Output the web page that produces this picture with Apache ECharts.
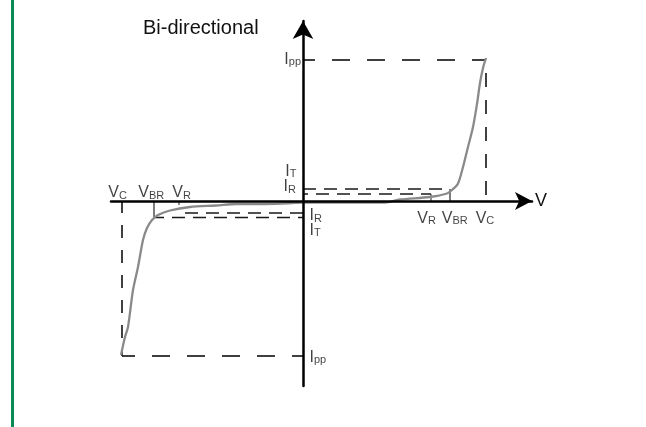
<!DOCTYPE html>
<html><head><meta charset="utf-8">
<script src="https://cdn.jsdelivr.net/npm/echarts@6/dist/echarts.min.js"></script>
<style>html,body{margin:0;padding:0;background:#fff}#c{width:646px;height:427px}</style>
</head><body><div id="c"></div>
<script>
// ---- data (arbitrary schematic units) ----
const vNames = ['VR', 'VBR', 'VC'];
const vPos = [128, 147, 183];
const vNeg = [-124, -149, -181];
const iNames = ['IR', 'IT', 'IPP'];
const iPos = [7, 12, 141];
const iNeg = [-12, -16.5, -155];
const curvePosV = [0, 82, 97, 127, 144, 149, 155, 160, 165, 170, 174, 177, 180, 183];
const curvePosI = [-1.5, -1.5, 1.5, 4, 7.5, 11, 17.5, 34, 54, 74, 97, 118, 133, 143];
const curveNegV = [0, -46, -66, -87, -113, -133, -145, -151, -156, -160, -165, -170, -175, -178, -182];
const curveNegI = [-1.5, -3, -3, -4.5, -6, -9.5, -14, -19, -27, -39, -66, -89, -126, -136, -154];
const vLabelText = ['{m|V}{s|R}', '{m|V}{s|BR}', '{m|V}{s|C}'];
const iLabelText = ['{m|I}{s|R}', '{m|I}{s|T}', '{m|I}{s|pp}'];
const xRange = [-192, 229];
const yRange = [-185, 180];

// ---- styling ----
const FF = "'Liberation Sans', Arial, Helvetica, sans-serif";
const TXT = '#111';
const rich = {
  m: { fontSize: 16, lineHeight: 16, fontFamily: FF, color: TXT },
  s: { fontSize: 11, lineHeight: 13, verticalAlign: 'bottom', fontFamily: FF, color: TXT }
};
const EXT = 4;

function zip(a, b) { return a.map((v, k) => [v, b[k]]); }
function seg(name, pts, color, width, type, offset, z) {
  return {
    name, type: 'line', data: pts, showSymbol: false, symbol: 'none', silent: true,
    z: z || 2, animation: false,
    lineStyle: { color, width, type: type || 'solid', dashOffset: offset || 0, cap: 'butt' }
  };
}

const posILabel = [
  { position: 'left', distance: 6.5, offset: [0, -7] },
  { position: 'left', distance: 6, offset: [0, -17.3] },
  { position: 'left', distance: 1.5, offset: [0, -0.6] }
];
const negILabel = [
  { position: 'right', distance: 6, offset: [0, 3] },
  { position: 'right', distance: 6, offset: [0, 13] },
  { position: 'right', distance: 6, offset: [0, 1.7] }
];
const posVLabel = [
  { position: 'bottom', distance: 8.8, offset: [-4.4, 0] },
  { position: 'bottom', distance: 8.8, offset: [4.7, 0] },
  { position: 'bottom', distance: 8.8, offset: [-1, 0] }
];
const negVLabel = [
  { position: 'top', distance: 0, offset: [2.6, 0.5] },
  { position: 'top', distance: 0, offset: [-2.7, 0.5] },
  { position: 'top', distance: 0, offset: [-4.4, 0.5] }
];

const labelData = [];
iNames.forEach((n, k) => {
  labelData.push({ name: n, value: [0, iPos[k]], label: Object.assign({ show: true, formatter: iLabelText[k], rich }, posILabel[k]) });
  labelData.push({ name: n, value: [0, iNeg[k]], label: Object.assign({ show: true, formatter: iLabelText[k], rich }, negILabel[k]) });
});
vNames.forEach((n, k) => {
  labelData.push({ name: n, value: [vPos[k], 0], label: Object.assign({ show: true, formatter: vLabelText[k], rich }, posVLabel[k]) });
  labelData.push({ name: n, value: [vNeg[k], 0], label: Object.assign({ show: true, formatter: vLabelText[k], rich }, negVLabel[k]) });
});

const DK = '#000', MID = '#1a1a1a', GR = '#444';
const series = [
  seg('IppTop', [[0, iPos[2]], [vPos[2], iPos[2]]], DK, 1.5, [18, 17], 6),
  seg('VcRight', [[vPos[2], iPos[2]], [vPos[2], -EXT]], DK, 1.5, [14, 13], 14),
  seg('ITpos', [[0, iPos[1]], [vPos[1], iPos[1]]], MID, 1.3, [13, 8], 0),
  seg('IRpos', [[0, iPos[0]], [vPos[0], iPos[0]]], MID, 1.3, [13, 8], 8),
  seg('VBRpos', [[vPos[1], iPos[1]], [vPos[1], 0]], GR, 1.4),
  seg('VRpos', [[vPos[0], iPos[0]], [vPos[0], 0]], GR, 1.2),
  seg('IRneg', [[0, iNeg[0]], [vNeg[0], iNeg[0]]], MID, 1.3, [13, 8], 0),
  seg('ITneg', [[0, iNeg[1]], [vNeg[1], iNeg[1]]], MID, 1.3, [13, 8], 8),
  seg('VBRneg', [[vNeg[1], 0], [vNeg[1], iNeg[1]]], GR, 1.4),
  seg('VRneg', [[vNeg[0], 0], [vNeg[0], -EXT]], GR, 1.2),
  seg('VcLeft', [[vNeg[2], 0], [vNeg[2], iNeg[2]]], DK, 1.5, [13, 12], 1),
  seg('IppBottom', [[vNeg[2], iNeg[2]], [0, iNeg[2]]], DK, 1.5, [18, 17], 5),
  {
    name: 'curvePos', type: 'line', data: zip(curvePosV, curvePosI), showSymbol: false, symbol: 'none',
    smooth: 0.3, silent: true, animation: false, z: 3,
    lineStyle: { color: '#8a8a8a', width: 2.3 }
  },
  {
    name: 'curveNeg', type: 'line', data: zip(curveNegV, curveNegI), showSymbol: false, symbol: 'none',
    smooth: 0.3, silent: true, animation: false, z: 3,
    lineStyle: { color: '#8a8a8a', width: 2.3 }
  },
  {
    name: 'labels', type: 'scatter', data: labelData, symbolSize: 1, silent: true, animation: false, z: 6,
    clip: false, itemStyle: { color: 'rgba(0,0,0,0)' }
  }
];

const chart = echarts.init(document.getElementById('c'), null, { renderer: 'canvas' });
chart.setOption({
  backgroundColor: '#fff',
  animation: false,
  title: {
    text: 'Bi-directional', left: 143, top: 18, padding: 0,
    textStyle: { fontSize: 20, fontWeight: 'normal', color: TXT, fontFamily: FF }
  },
  graphic: [{ type: 'rect', left: 11, top: 0, shape: { width: 3, height: 427 }, style: { fill: '#0a8a55' } }],
  grid: { left: 111, right: 114, top: 21, bottom: 41 },
  xAxis: {
    type: 'value', min: xRange[0], max: xRange[1], z: 5,
    name: 'V', nameLocation: 'end', nameGap: 3,
    nameTextStyle: { fontSize: 18, color: TXT, fontFamily: FF, padding: [5, 0, 0, 0] },
    axisLine: { show: true, onZero: true, symbol: ['none', 'arrow'], symbolSize: [13.5, 17], lineStyle: { color: '#000', width: 2.5 } },
    axisTick: { show: false }, axisLabel: { show: false }, splitLine: { show: false }
  },
  yAxis: {
    type: 'value', min: yRange[0], max: yRange[1], z: 5,
    axisLine: { show: true, onZero: true, symbol: ['none', 'arrow'], symbolSize: [15.5, 18], lineStyle: { color: '#000', width: 2.5 } },
    axisTick: { show: false }, axisLabel: { show: false }, splitLine: { show: false }
  },
  series
});
</script>
</body></html>
